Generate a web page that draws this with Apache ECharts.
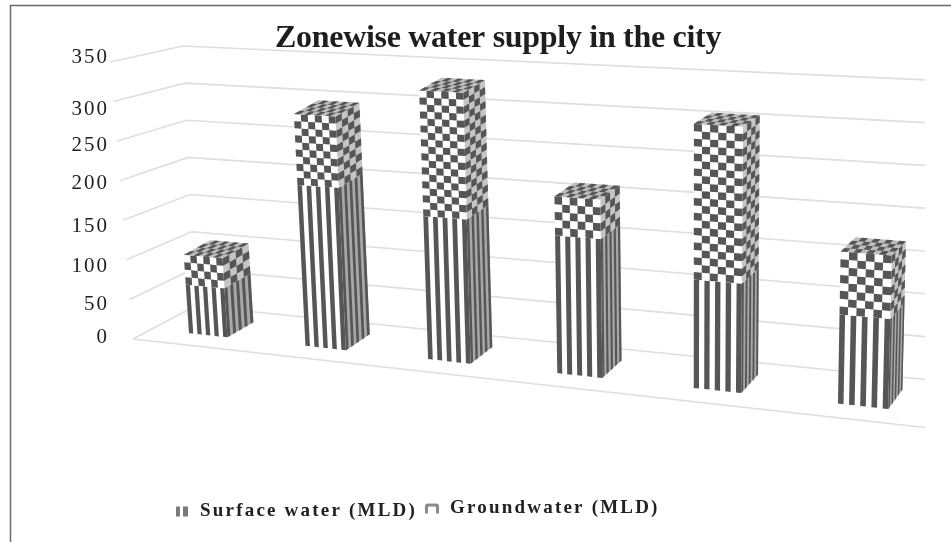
<!DOCTYPE html>
<html><head><meta charset="utf-8">
<style>html,body{margin:0;padding:0;background:#fff}#c{width:951px;height:542px;filter:blur(0.6px)}</style>
<script src="https://cdn.jsdelivr.net/npm/echarts@6/dist/echarts.min.js"></script>
</head><body><div id="c"></div>
<script>
const categories = ['Zone 1','Zone 2','Zone 3','Zone 4','Zone 5','Zone 6'];
const surfaceWater = [62, 200, 173, 162, 124, 99];
const groundwater = [38, 88, 152, 46, 178, 70];
const yTicks = [0, 50, 100, 150, 200, 250, 300, 350];
const labelShift = {350: 7, 300: -6, 250: -3, 200: -1, 150: -5, 100: -5, 50: -4, 0: 3};

// The source text has wide tracking on some lines; canvas applies it per font.
const tracking = [[/^21px/, '2px'], [/^bold 19px/, '2.2px'], [/^bold 32px/, '-0.3px']];
const rawFill = CanvasRenderingContext2D.prototype.fillText;
CanvasRenderingContext2D.prototype.fillText = function (...args) {
  const hit = tracking.find(t => t[0].test(this.font));
  this.letterSpacing = hit ? hit[1] : '0px';
  return rawFill.apply(this, args);
};

// Oblique view of the chart box: corners as [x, y] for (front/back, bottom/top, left/right)
const view = {
  fl0: [133, 339], fr0: [930, 428], bl0: [195, 306], br0: [960, 383],
  fl1: [110, 62],  fr1: [938, 98],  bl1: [183, 46],  br1: [972, 82]
};
const perspK = 0.175, clipX = 925;
const barHalf = 0.028, barFront = 0.3, barBack = 0.74;
const ink = '#565656', line = '#dedede';

function lerp(a, b, t) { return [a[0] + (b[0] - a[0]) * t, a[1] + (b[1] - a[1]) * t]; }
function project(u, v, d) {
  const s = u / (1 + perspK * (1 - u));
  const front = lerp(lerp(view.fl0, view.fr0, s), lerp(view.fl1, view.fr1, s), v);
  const back = lerp(lerp(view.bl0, view.br0, s), lerp(view.bl1, view.br1, s), v);
  return lerp(front, back, d);
}
// boxes follow the depth direction of the floor, flattening towards the upper right
function boxPoint(u, v, d) {
  const a = project(u, v, barFront), f0 = project(u, 0, barFront), f1 = project(u, 0, d);
  return [a[0] + f1[0] - f0[0], a[1] + (f1[1] - f0[1]) * (1 - 0.6 * u * v)];
}
function toUnit(params, api, cat, val) {
  const r = params.coordSys, p = api.coord([cat, val]);
  return [(p[0] - r.x) / r.width, (r.y + r.height - p[1]) / r.height];
}
function poly(points, fill) {
  return { type: 'polygon', silent: true, shape: { points }, style: { fill, stroke: null } };
}
function cell(face, a0, a1, b0, b1, fill) {
  return poly([face(a0, b0), face(a1, b0), face(a1, b1), face(a0, b1)], fill);
}
function faces(uc, v0, v1) {
  const u0 = uc - barHalf, u1 = uc + barHalf;
  return {
    front: (a, b) => boxPoint(u0 + (u1 - u0) * a, v0 + (v1 - v0) * b, barFront),
    side:  (a, b) => boxPoint(u1, v0 + (v1 - v0) * b, barFront + (barBack - barFront) * a),
    top:   (a, b) => boxPoint(u0 + (u1 - u0) * a, v1, barFront + (barBack - barFront) * b)
  };
}
function stripes(face, bands, base, kids) {
  kids.push(cell(face, 0, 1, 0, 1, base));
  for (let k = 0; k < bands; k += 2) kids.push(cell(face, k / bands, (k + 1) / bands, 0, 1, ink));
}
function checks(face, cols, rows, base, kids, phase) {
  kids.push(cell(face, 0, 1, 0, 1, base));
  for (let c = 0; c < cols; c++) for (let r = 0; r < rows; r++)
    if ((c + r + phase) % 2 === 0) kids.push(cell(face, c / cols, (c + 1) / cols, r / rows, (r + 1) / rows, ink));
}
function renderSurface(params, api) {
  const i = api.value(0);
  const [uc, v0] = toUnit(params, api, i, 0);
  const v1 = toUnit(params, api, i, api.value(1))[1];
  const f = faces(uc, v0, v1), children = [];
  stripes(f.front, 9, '#fff', children);
  stripes(f.side, 9, '#a8a8a8', children);
  return { type: 'group', children };
}
function renderGround(params, api) {
  const i = api.value(0), lo = api.value(1), hi = api.value(2);
  const uc = toUnit(params, api, i, 0)[0];
  const v0 = toUnit(params, api, i, lo)[1], v1 = toUnit(params, api, i, hi)[1];
  const f = faces(uc, v0, v1), children = [];
  const rows = Math.max(4, Math.round((hi - lo) / 8.6));
  checks(f.front, 6, rows, '#fff', children, 0);
  checks(f.side, 4, rows, '#c4c4c4', children, 1);
  checks(f.top, 8, 4, '#bdbdbd', children, 0);
  return { type: 'group', children };
}
function renderWall(params, api) {
  const v = toUnit(params, api, 0, api.value(0))[1];
  const a = project(0, v, 0), b = project(0, v, 1);
  let lo = 0, hi = 1;
  for (let n = 0; n < 30; n++) { const m = (lo + hi) / 2; if (project(m, v, 1)[0] < clipX) lo = m; else hi = m; }
  const c = project(lo, v, 1);
  const children = [{ type: 'polyline', silent: true, shape: { points: [a, b, c] }, style: { stroke: line, lineWidth: 1.6, fill: null } }];
  if (api.value(0) === 0) {
    let l2 = 0, h2 = 1;
    for (let n = 0; n < 30; n++) { const m = (l2 + h2) / 2; if (project(m, v, 0)[0] < clipX) l2 = m; else h2 = m; }
    children.push({ type: 'polyline', silent: true, shape: { points: [a, project(l2, v, 0)] }, style: { stroke: line, lineWidth: 1.6, fill: null } });
  }
  return { type: 'group', children };
}

const serif = '"Liberation Serif", serif';
const rich = {};
yTicks.forEach(t => {
  const s = labelShift[t] * 2;
  rich['t' + t] = { fontFamily: serif, fontSize: 21, color: '#222', padding: s > 0 ? [0, 0, s, 0] : [-s, 0, 0, 0] };
});
const chart = echarts.init(document.getElementById('c'), null, { renderer: 'canvas' });
chart.setOption({
  animation: false,
  backgroundColor: '#fff',
  title: { text: 'Zonewise water supply in the city', left: 275, top: 23,
    textStyle: { fontFamily: serif, fontWeight: 'bold', fontSize: 32, color: '#1e1e1e' }, padding: 0 },
  grid: { left: 112, right: 26, top: 64, bottom: 202 },
  xAxis: { type: 'category', data: categories, show: false },
  yAxis: { type: 'value', min: 0, max: 350, interval: 50,
    axisLine: { show: false }, axisTick: { show: false }, splitLine: { show: false },
    axisLabel: { margin: 3, formatter: v => '{t' + v + '|' + v + '}', rich } },
  legend: [
    { data: ['Surface water (MLD)'], left: 176, top: 502, padding: 0, itemWidth: 12, itemHeight: 11, itemGap: 0,
      textStyle: { fontFamily: serif, fontWeight: 'bold', fontSize: 19, color: '#222', padding: [0, 0, 0, 7] }, selectedMode: false,
      icon: 'path://M0 0h4v10h-4z M7 0h5v10h-5z' },
    { data: ['Groundwater (MLD)'], left: 425, top: 499, padding: 0, itemWidth: 14, itemHeight: 10, itemGap: 0,
      textStyle: { fontFamily: serif, fontWeight: 'bold', fontSize: 19, color: '#222', padding: [0, 0, 0, 6] }, selectedMode: false,
      icon: 'path://M0 10v-7q0-3 3-3h8q3 0 3 3v7h-3v-6q0-1-1-1h-6q-1 0-1 1v6z' }
  ],
  graphic: [
    { type: 'polyline', silent: true, shape: { points: [[10.5, 542], [10.5, 5.5], [951, 5.5]] },
      style: { stroke: '#6a6a6a', lineWidth: 1.5, fill: null } }
  ],
  series: [
    { type: 'custom', name: 'wall', coordinateSystem: 'cartesian2d', renderItem: renderWall, z: 1, silent: true, clip: false,
      encode: { y: 0 }, data: yTicks.map(t => [t]), tooltip: { show: false } },
    { type: 'custom', name: 'Surface water (MLD)', coordinateSystem: 'cartesian2d', renderItem: renderSurface, z: 2, clip: false,
      itemStyle: { color: '#7a7a7a' }, encode: { x: 0, y: 1 }, data: surfaceWater.map((s, i) => [i, s]) },
    { type: 'custom', name: 'Groundwater (MLD)', coordinateSystem: 'cartesian2d', renderItem: renderGround, z: 3, clip: false,
      itemStyle: { color: '#8a8a8a' }, encode: { x: 0, y: 2 }, data: groundwater.map((g, i) => [i, surfaceWater[i], surfaceWater[i] + g]) }
  ]
});
</script></body></html>
